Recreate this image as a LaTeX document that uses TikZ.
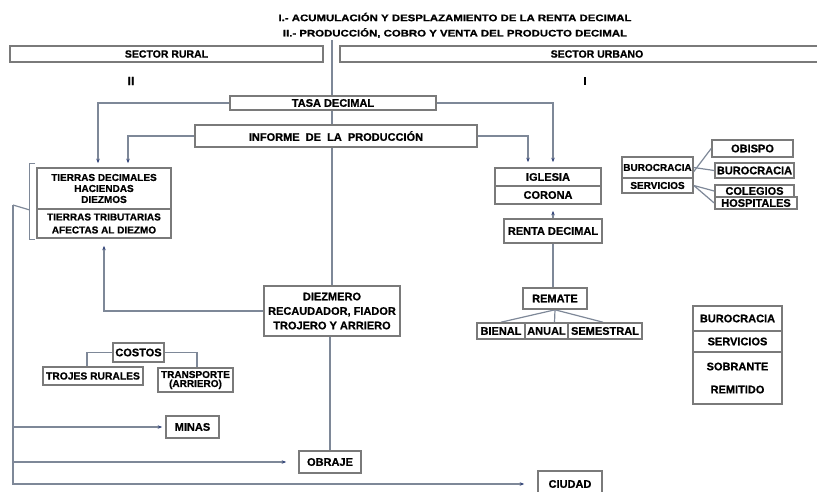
\documentclass[tikz,border=0pt]{standalone}
\usepackage{fontspec}
\setmainfont{Liberation Sans}[BoldFont={Liberation Sans Bold}, BoldFeatures={FakeBold=0.8}]
\usetikzlibrary{arrows.meta,calc,backgrounds}
\definecolor{bxc}{HTML}{7A7A7A}
\definecolor{lnc}{HTML}{7E8898}
\definecolor{tipc}{HTML}{34467A}
\tikzset{
  bx/.style 2 args={draw=bxc, line width=1.6pt, fill=white, inner sep=0pt,
    minimum width=#1, minimum height=#2, align=center},
  plain/.style={inner sep=0pt, align=center},
  ln/.style={draw=lnc, line width=1.2pt},
  arr/.style={ln, -{Stealth[length=4.5pt,width=3.5pt,color=tipc]}},
  fa/.style={font=\bfseries\fontsize{11}{13}\selectfont},
  fb/.style={font=\bfseries\fontsize{10}{11}\selectfont},
}
\begin{document}
\begin{tikzpicture}[x=1pt,y=-1pt,fa]
\useasboundingbox (0,0) rectangle (817,491);
% titles
\node[plain] (t1title) at (455,17) {\scalebox{1.2}[1]{\fontsize{9.5}{11}\selectfont I.- ACUMULACIÓN Y DESPLAZAMIENTO DE LA RENTA DECIMAL}};
\node[plain] (t2title) at (455,33) {\scalebox{1.2}[1]{\fontsize{9.5}{11}\selectfont II.- PRODUCCIÓN, COBRO Y VENTA DEL PRODUCTO DECIMAL}};
% sectors
\node[bx={313pt}{16pt}, font=\bfseries\fontsize{10.5}{12}\selectfont] (rural) at (166.5,54) {SECTOR RURAL};
\node[bx={490pt}{16pt}, font=\bfseries\fontsize{10.5}{12}\selectfont] (urbano) at (585,54) {\hspace*{24pt}SECTOR URBANO};
\node[plain, font=\bfseries\fontsize{12}{13}\selectfont] (dos) at (131,81) {II};
\node[plain, font=\bfseries\fontsize{11}{13}\selectfont] (uno) at (585,81) {I};
% central column
\node[bx={206pt}{14pt}] (tasa) at (333,103) {TASA DECIMAL};
\node[bx={282pt}{22pt}] (informe) at (336,136) {INFORME\ \ DE\ \ LA\ \ PRODUCCIÓN};
\node[bx={136pt}{50pt}, font=\bfseries\fontsize{11}{14.5}\selectfont] (diez) at (332,311) {DIEZMERO\\RECAUDADOR, FIADOR\\TROJERO Y ARRIERO};
\node[bx={62pt}{22pt}] (obraje) at (330,462) {OBRAJE};
\coordinate (top) at (332,40);
\begin{scope}[on background layer]
\draw[ln] (top) -- (top |- diez.north);
\draw[ln] (diez.south -| obraje.north) -- (obraje.north);
\end{scope}
% tierras
\node[bx={134pt}{41pt}, fb] (tA) at (104,188.5) {TIERRAS DECIMALES\\HACIENDAS\\DIEZMOS};
\node[bx={134pt}{29pt}, font=\bfseries\fontsize{10}{13}\selectfont] (tB) at (104,223.5) {TIERRAS TRIBUTARIAS\\AFECTAS AL DIEZMO};
\draw[arr, shorten >=4pt] (tasa.west) -| ([xshift=-6pt]tA.north);
\draw[arr, shorten >=4pt] (informe.west) -| ([xshift=24pt]tA.north);
\draw[arr, shorten >=7pt] (diez.west) -| (tB.south);
% left bracket
\coordinate (brk) at (13,205);
\draw[ln] ([xshift=-1pt,yshift=4pt]tA.north west) -- ++(-6,0) -- ([xshift=-7pt,yshift=-1pt]tB.south west) -- ([xshift=-1pt,yshift=-1pt]tB.south west);
\draw[ln] ([xshift=-7pt]tA.south west) -- (brk);
% costos
\node[bx={51pt}{19pt}] (costos) at (138.5,352.5) {COSTOS};
\node[bx={100pt}{18pt}, font=\bfseries\fontsize{10.3}{12}\selectfont] (trojes) at (93,376) {TROJES RURALES};
\node[bx={75pt}{24pt}, font=\bfseries\fontsize{10}{9}\selectfont] (transp) at (195.5,380) {TRANSPORTE\\(ARRIERO)};
\draw[ln] (costos.west) -| ([xshift=-6pt]trojes.north);
\draw[ln] (costos.east) -| ([xshift=1.5pt]transp.north);
% bottom left
\node[bx={53pt}{22pt}] (minas) at (192.5,427) {MINAS};
\node[bx={64pt}{26pt}] (ciudad) at (570,484) {CIUDAD};
\draw[arr, shorten >=3pt] (brk) |- (minas.west);
\draw[arr, shorten >=12pt] (brk) |- (obraje.west);
\draw[arr, shorten >=13pt] (brk) |- (ciudad.west);
% urban column
\node[bx={106pt}{18pt}] (igl) at (548,177) {IGLESIA};
\node[bx={106pt}{18pt}] (cor) at (548,195) {CORONA};
\node[bx={98pt}{24pt}] (renta) at (553,231) {RENTA DECIMAL};
\node[bx={64pt}{21pt}] (remate) at (555,298.5) {REMATE};
\node[bx={48pt}{16pt}] (bienal) at (501,331) {BIENAL};
\node[bx={43pt}{16pt}] (anual) at (546.5,331) {ANUAL};
\node[bx={74pt}{16pt}] (semes) at (605,331) {SEMESTRAL};
\draw[arr, shorten >=5pt] (tasa.east) -| ([xshift=5pt]igl.north);
\draw[arr, shorten >=5pt] (informe.east) -| ([xshift=-20pt]igl.north);
\draw[arr, shorten >=6pt] (renta.north) -- (renta.north |- cor.south);
\draw[ln] (renta.south) -- (renta.south |- remate.north);
\begin{scope}[on background layer]
\draw[ln] (remate.south) -- (bienal.north);
\draw[ln] (remate.south) -- ([xshift=8pt]anual.north);
\draw[ln] (remate.south) -- ([xshift=-2pt]semes.north);
\end{scope}
% burocracia cluster
\node[bx={71pt}{21pt}, fb] (bur1) at (657.5,167.5) {BUROCRACIA};
\node[bx={71pt}{15pt}, fb] (serv1) at (657.5,185.5) {SERVICIOS};
\node[bx={81pt}{17pt}] (obispo) at (752.5,148.5) {OBISPO};
\node[bx={79pt}{15pt}] (bur2) at (754.5,170.5) {BUROCRACIA};
\node[bx={79pt}{12pt}] (coleg) at (754.5,191) {COLEGIOS};
\node[bx={82pt}{12pt}] (hosp) at (756,203) {HOSPITALES};
\draw[ln] ([yshift=-4pt]bur1.east) -- (obispo.west);
\draw[ln] (bur1.east) -- (bur2.west);
\draw[ln] (serv1.east) -- (coleg.west);
\draw[ln] (serv1.east) -- (hosp.west);
% right box
\node[bx={89pt}{25pt}] (rb1) at (737.5,318.5) {BUROCRACIA};
\node[bx={89pt}{21pt}] (rb2) at (737.5,341.5) {SERVICIOS};
\node[bx={89pt}{52pt}, font=\bfseries\fontsize{11}{23}\selectfont] (rb3) at (737.5,378) {SOBRANTE\\REMITIDO};
\end{tikzpicture}
\end{document}
